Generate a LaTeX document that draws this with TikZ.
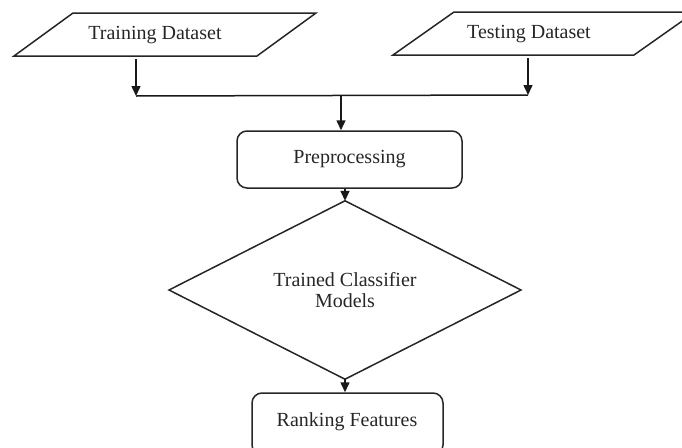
\documentclass[tikz,border=0pt]{standalone}
\usepackage{fontspec}
\setmainfont{Liberation Serif}
\usetikzlibrary{arrows.meta,shapes.geometric}
\begin{document}
\begin{tikzpicture}[x=1pt,y=-1pt,
  every node/.style={font=\fontsize{20}{22}\selectfont, text=black!85},
  shapeline/.style={draw=black!85, line width=1.5pt, line join=miter},
  conn/.style={draw=black!90, line width=1.5pt},
  arr/.style={conn, -{Triangle[length=10pt,width=9pt]}},
  procbox/.style={shapeline, rounded corners=10pt, inner sep=0pt}]
\useasboundingbox (0,0) rectangle (682,447);
% Training parallelogram
\draw[shapeline] (73,13) -- (316,13) -- (257,56) -- (14,56) -- cycle;
\node (train) at (155,35) {Training Dataset};
% Testing parallelogram
\draw[shapeline] (454,12) -- (695,12) -- (634,55) -- (393,55) -- cycle;
\node (test) at (529,34) {Testing Dataset};
% junction coordinates
\coordinate (trs) at (136,59);
\coordinate (tes) at (528,58);
\coordinate (trj) at (136,96);
\coordinate (tej) at (528,95);
\coordinate (mid) at (341,95.5);
\draw[arr] (trs) -- (trj);
\draw[arr] (tes) -- (tej);
\draw[conn] (trj) -- (tej);
% Preprocessing
\node[procbox, minimum width=225pt, minimum height=57pt] (pre) at (349.5,159.5) {Preprocessing};
\draw[arr] (mid) -- (mid |- pre.north);
% Diamond
\node[shape=diamond, shapeline, minimum width=352pt, minimum height=134pt, inner sep=0pt, outer sep=0pt, align=center] (cls) at (345,290) {Trained Classifier\\[-1pt]Models};
\draw[arr] (pre.south -| cls.north) -- (cls.north);
% Ranking
\node[procbox, minimum width=191pt, minimum height=62pt] (rank) at (347.5,424) {};
\node (ranktext) at (347,422) {Ranking Features};
\draw[arr] (cls.south) -- (rank.north -| cls.south);
\end{tikzpicture}
\end{document}
